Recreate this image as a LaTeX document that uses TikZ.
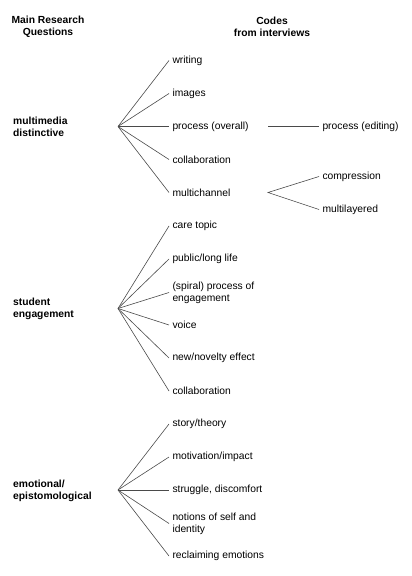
\documentclass[tikz,border=0pt]{standalone}
\usepackage{fontspec}
\setmainfont{Liberation Sans}
\newcommand\codefont{\fontsize{10.3bp}{12bp}\selectfont}
\definecolor{linegray}{HTML}{4A4A4A}
\begin{document}
\begin{tikzpicture}[x=1bp,y=-1bp,
  code/.style={anchor=west,inner sep=0pt,outer sep=3.5bp,align=left,font=\codefont},
  rq/.style={anchor=west,inner sep=0pt,align=left,font=\codefont\bfseries},
  hdr/.style={inner sep=0pt,align=center,font=\codefont\bfseries},
  link/.style={draw=linegray,line width=0.6bp}]
\useasboundingbox (0,0) rectangle (411,576);

% headers
\node[hdr] (h1) at (48,27) {Main Research\\Questions};
\node[hdr] (h2) at (272,27) {Codes\\from interviews};

% group 1
\node[rq] (q1) at (13,126.5) {multimedia\\distinctive};
\coordinate (hub1) at (118,126.5);
\node[code] (c11) at (169,60.5) {writing};
\node[code] (c12) at (169,93.5) {images};
\node[code] (c13) at (169,126.5) {process (overall)};
\node[code] (c14) at (169,159.5) {collaboration};
\node[code] (c15) at (169,192.5) {multichannel};
\foreach \n in {c11,c12,c13,c14,c15} \draw[link] (hub1) -- (\n.west);

\coordinate (pe0) at (268,126.5);
\node[code] (pe) at (319,126.5) {process (editing)};
\draw[link] (pe0) -- (pe.west);

\coordinate (mc0) at (268,192.5);
\node[code] (cmp) at (319,176.5) {compression};
\node[code] (mly) at (319,209.5) {multilayered};
\draw[link] (cmp.west) -- (mc0) -- (mly.west);

% group 2
\node[rq] (q2) at (13,309) {student\\engagement};
\coordinate (hub2) at (118,308.5);
\node[code] (c21) at (169,226) {care topic};
\node[code] (c22) at (169,259) {public/long life};
\node[code] (c23) at (169,292.5) {(spiral) process of\\engagement};
\node[code] (c24) at (169,325) {voice};
\node[code] (c25) at (169,358) {new/novelty effect};
\node[code] (c26) at (169,391) {collaboration};
\foreach \n in {c21,c22,c23,c24,c25,c26} \draw[link] (hub2) -- (\n.west);

% group 3
\node[rq] (q3) at (13,491) {emotional/\\epistomological};
\coordinate (hub3) at (118,490);
\node[code] (c31) at (169,424) {story/theory};
\node[code] (c32) at (169,457) {motivation/impact};
\node[code] (c33) at (169,490) {struggle, discomfort};
\node[code] (c34) at (169,523.5) {notions of self and\\identity};
\node[code] (c35) at (169,556) {reclaiming emotions};
\foreach \n in {c31,c32,c33,c34,c35} \draw[link] (hub3) -- (\n.west);
\end{tikzpicture}
\end{document}
